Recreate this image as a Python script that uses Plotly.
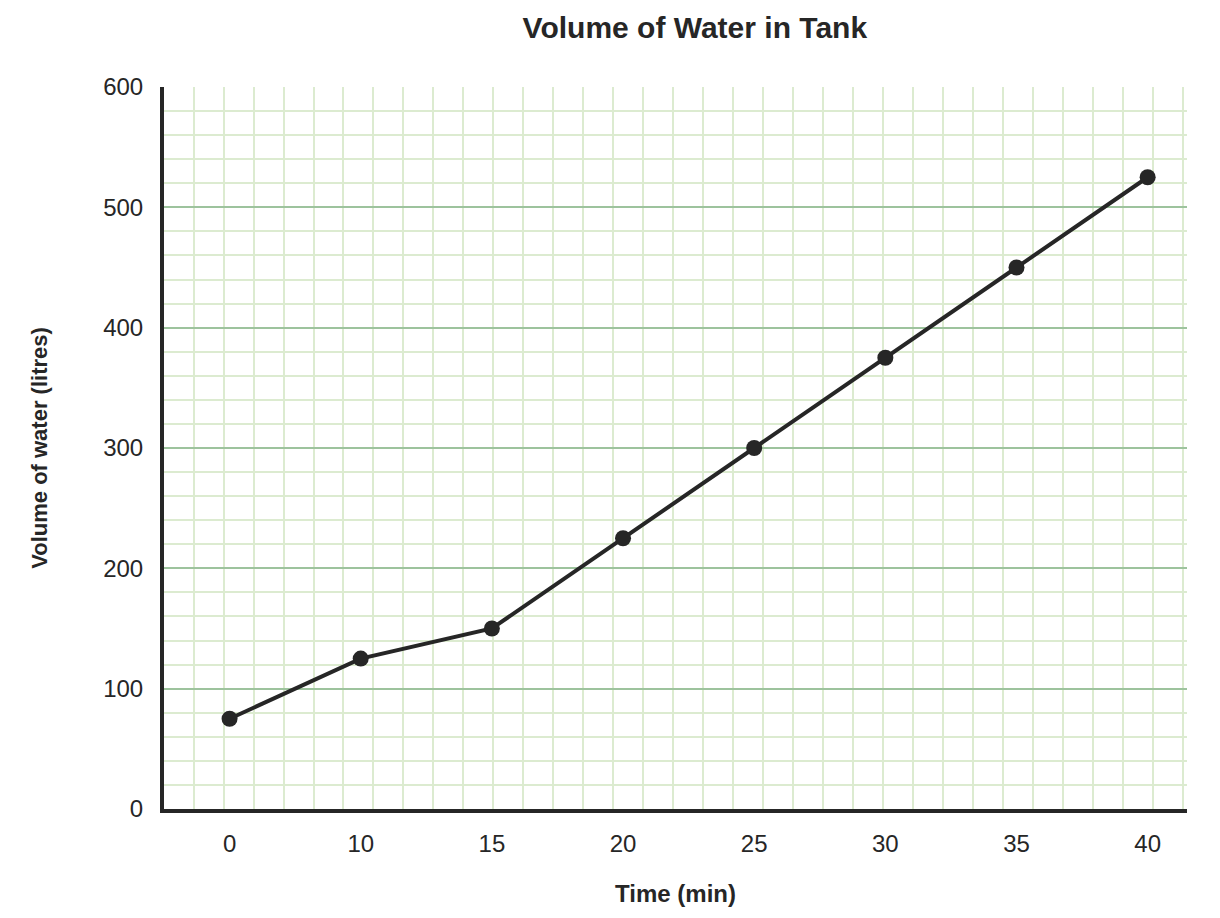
import plotly.graph_objects as go

times = ["0", "10", "15", "20", "25", "30", "35", "40"]
volume = [75, 125, 150, 225, 300, 375, 450, 525]

idx = list(range(len(times)))

fig = go.Figure(go.Scatter(x=idx, y=volume, mode="lines+markers",
                           line=dict(color="#262626", width=4),
                           marker=dict(color="#262626", size=16)))

fig.update_layout(
    width=1220, height=918, plot_bgcolor="white", paper_bgcolor="white",
    margin=dict(l=156, r=41, t=79, b=117),
    font=dict(family="Arial, Liberation Sans", size=24, color="#262626"),
    title=dict(text="<b>Volume of Water in Tank</b>", x=0.563, xanchor="center",
               y=0.99, yanchor="top", font=dict(size=30)),
    showlegend=False,
)
fig.update_xaxes(range=[-0.5, 7.3], tickvals=idx, ticktext=times, showgrid=False,
                 zeroline=False, showline=True, linecolor="#262626", linewidth=4,
                 ticks="outside", ticklen=10, tickcolor="white",
                 minor=dict(tick0=-0.274, dtick=0.2285, showgrid=True,
                            gridcolor="#dcebd0", gridwidth=2),
                 title=dict(text="<b>Time (min)</b>", font=dict(size=24), standoff=30))
fig.update_yaxes(range=[0, 600], dtick=100, showgrid=True, gridcolor="#9dc39d",
                 gridwidth=2, zeroline=False, showline=True, linecolor="#262626",
                 linewidth=4, ticks="outside", ticklen=12, tickcolor="white",
                 minor=dict(dtick=20, showgrid=True, gridcolor="#dcebd0", gridwidth=2),
                 title=dict(text="<b>Volume of water (litres)</b>", font=dict(size=22),
                            standoff=50))

fig.write_html("out.html")
